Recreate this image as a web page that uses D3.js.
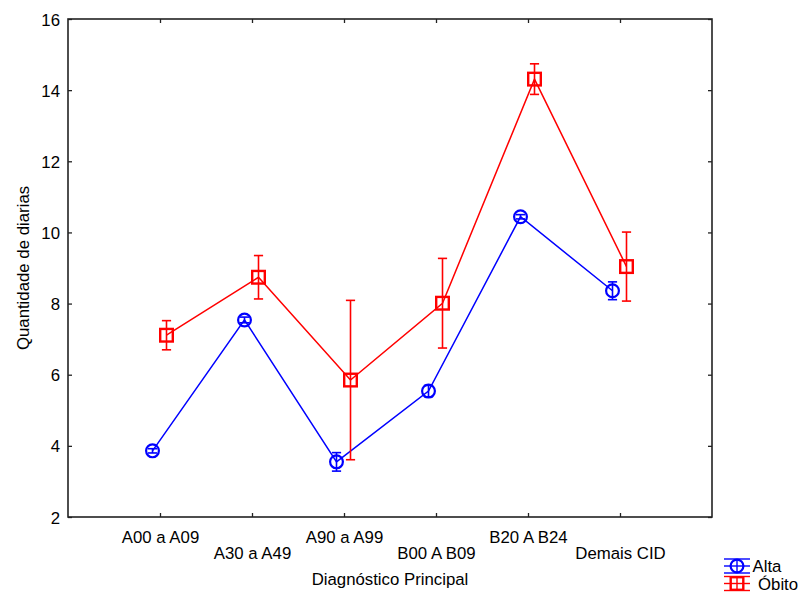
<!DOCTYPE html>
<html>
<head>
<meta charset="utf-8">
<script src="https://cdn.jsdelivr.net/npm/d3@7"></script>
<style>
  body { margin: 0; background: #fff; }
  text { font-family: "Liberation Sans", Arial, sans-serif; fill: #000; }
</style>
</head>
<body>
<div class="chart"></div>
<script>
var svgWidth = 800;
var svgHeight = 594;

// plot frame
var margin = { top: 19, right: 88, bottom: 77, left: 68 };
var width = svgWidth - margin.left - margin.right;
var height = svgHeight - margin.top - margin.bottom;

// data
var categories = ["A00 a A09", "A30 a A49", "A90 a A99", "B00 A B09", "B20 A B24", "Demais CID"];
var altaMean = [3.86, 7.54, 3.55, 5.54, 10.44, 8.36];
var altaErr = [0.06, 0.08, 0.26, 0.16, 0.06, 0.25];
var obitoMean = [7.11, 8.74, 5.85, 8.01, 14.31, 9.04];
var obitoErr = [0.41, 0.61, 2.24, 1.26, 0.43, 0.97];
var yTicks = [2, 4, 6, 8, 10, 12, 14, 16];

var series = [
  { name: "Alta", mean: altaMean, err: altaErr, color: "#0000ff", shape: "circle", dx: -7.5 },
  { name: "Óbito", mean: obitoMean, err: obitoErr, color: "#ff0000", shape: "square", dx: 6.5 }
];

var svg = d3.select(".chart")
  .append("svg")
  .attr("width", svgWidth)
  .attr("height", svgHeight);

var chartGroup = svg.append("g")
  .attr("transform", `translate(${margin.left}, ${margin.top})`);

var xScale = d3.scalePoint()
  .domain(categories)
  .range([0, width])
  .padding(1);

var yScale = d3.scaleLinear()
  .domain([2, 16])
  .range([height, 0]);

// axes, ticks pointing inward
var bottomAxis = chartGroup.append("g")
  .attr("transform", `translate(0, ${height})`)
  .call(d3.axisBottom(xScale).tickSize(-4).tickSizeOuter(0).tickPadding(0));

bottomAxis.selectAll("text")
  .attr("y", (d, i) => i % 2 === 0 ? 26 : 42)
  .attr("dy", 0)
  .style("font-size", "16.8px");

chartGroup.append("g")
  .call(d3.axisTop(xScale).tickSize(-4).tickSizeOuter(0))
  .selectAll("text").remove();

var leftAxis = chartGroup.append("g")
  .call(d3.axisLeft(yScale).tickValues(yTicks).tickSize(-4).tickSizeOuter(0).tickPadding(8));

leftAxis.selectAll("text")
  .attr("dy", "0.36em")
  .style("font-size", "16.8px");

chartGroup.append("g")
  .attr("transform", `translate(${width}, 0)`)
  .call(d3.axisRight(yScale).tickValues(yTicks).tickSize(-4).tickSizeOuter(0))
  .selectAll("text").remove();

chartGroup.selectAll(".domain").remove();
chartGroup.selectAll(".tick line").attr("stroke", "#222").attr("stroke-width", 1.3);

// frame
chartGroup.append("rect")
  .attr("width", width)
  .attr("height", height)
  .attr("fill", "none")
  .attr("stroke", "#222")
  .attr("stroke-width", 1.6);

// series
function drawMarker(g, shape, color, cx, cy) {
  if (shape === "circle") {
    g.append("circle")
      .attr("cx", cx).attr("cy", cy).attr("r", 6.4)
      .attr("fill", "none").attr("stroke", color).attr("stroke-width", 2.2);
  } else {
    g.append("rect")
      .attr("x", cx - 6.3).attr("y", cy - 6.3)
      .attr("width", 12.6).attr("height", 12.6)
      .attr("fill", "none").attr("stroke", color).attr("stroke-width", 2.4);
  }
}

series.forEach(function(s) {
  var g = chartGroup.append("g");
  var line = d3.line()
    .x((d, i) => xScale(categories[i]) + s.dx)
    .y(d => yScale(d));

  g.append("path")
    .datum(s.mean)
    .attr("d", line)
    .attr("fill", "none")
    .attr("stroke", s.color)
    .attr("stroke-width", 1.5);

  s.mean.forEach(function(m, i) {
    var cx = xScale(categories[i]) + s.dx;
    var hi = yScale(m + s.err[i]);
    var lo = yScale(m - s.err[i]);
    g.append("line")
      .attr("x1", cx).attr("x2", cx).attr("y1", hi).attr("y2", lo)
      .attr("stroke", s.color).attr("stroke-width", 1.6);
    [hi, lo].forEach(function(yy) {
      g.append("line")
        .attr("x1", cx - 4.6).attr("x2", cx + 4.6).attr("y1", yy).attr("y2", yy)
        .attr("stroke", s.color).attr("stroke-width", 1.6);
    });
    drawMarker(g, s.shape, s.color, cx, yScale(m));
  });
});

// axis titles
svg.append("text")
  .attr("x", margin.left + width / 2)
  .attr("y", 585)
  .attr("text-anchor", "middle")
  .style("font-size", "16.8px")
  .text("Diagnóstico Principal");

svg.append("text")
  .attr("transform", `translate(29, ${margin.top + height / 2}) rotate(-90)`)
  .attr("text-anchor", "middle")
  .style("font-size", "16.8px")
  .text("Quantidade de diarias");

// legend
var legend = svg.append("g");
series.forEach(function(s, i) {
  var cy = 566 + i * 17.5;
  var lg = legend.append("g");
  [-7, 0, 7].forEach(function(off) {
    lg.append("line")
      .attr("x1", 724).attr("x2", 750).attr("y1", cy + off).attr("y2", cy + off)
      .attr("stroke", s.color).attr("stroke-width", 1.4);
  });
  lg.append("line")
    .attr("x1", 737).attr("x2", 737).attr("y1", cy - 6).attr("y2", cy + 6)
    .attr("stroke", s.color).attr("stroke-width", 1.4);
  drawMarker(lg, s.shape, s.color, 737, cy);
  lg.append("text")
    .attr("x", i === 0 ? 752.5 : 758)
    .attr("y", cy + 6)
    .style("font-size", "16.8px")
    .text(s.name);
});
</script>
</body>
</html>
